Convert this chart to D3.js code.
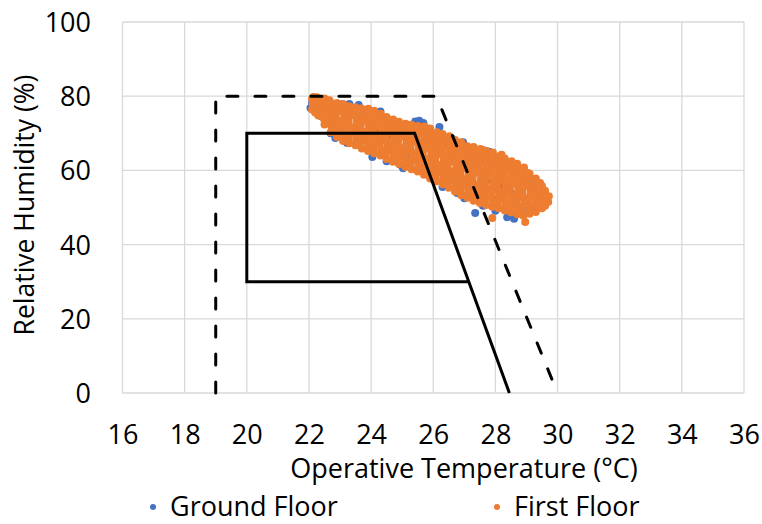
<!DOCTYPE html>
<html>
<head>
<meta charset="utf-8">
<script src="https://cdn.jsdelivr.net/npm/d3@7/dist/d3.min.js"></script>
<style>
  html, body { margin: 0; padding: 0; background: #fff; }
  svg { display: block; }
  text { font-family: "Segoe UI", "Open Sans", "Noto Sans", sans-serif; fill: #000; }
</style>
</head>
<body>
<svg id="chart" width="762" height="524"></svg>
<script>
// ---------- data ----------
const xTicks = [16, 18, 20, 22, 24, 26, 28, 30, 32, 34, 36];
const yTicks = [0, 20, 40, 60, 80, 100];
const xTitle = "Operative Temperature (°C)";
const yTitle = "Relative Humidity (%)";
const seriesNames = ["Ground Floor", "First Floor"];
const seriesColors = ["#4472C4", "#ED7D31"];

// comfort zone boundaries [temperature, RH]
const outerZone = [[19, 0], [19, 80], [26.1, 80], [30, 0]];            // dashed
const innerZone = [[27.14, 30], [20, 30], [20, 70], [25.4, 70], [28.45, 0]]; // solid

// Ground Floor measurements [temperature °C, RH %]
const groundFloor = [
  [22.05,76.8],[22.1,78.2],[22.2,75.9],[22.37,77.6],[22.4,74.6],[22.45,76.2],
  [22.7,70.0],[22.75,72.4],[22.8,74.8],[22.85,68.7],[22.9,77.9],[22.95,76.0],
  [23.07,77.8],[23.1,70.2],[23.15,73.1],[23.23,67.4],[23.3,77.9],[23.35,75.2],
  [23.6,77.6],[23.6,67.1],[23.65,70.4],[23.7,73.6],[23.8,76.1],[24.04,63.6],
  [24.1,66.9],[24.2,70.1],[24.25,73.4],[24.3,75.9],[24.5,62.5],[24.6,65.8],
  [24.7,69.0],[24.75,72.2],[24.94,61.5],[25.03,60.6],[25.1,64.1],[25.2,67.5],
  [25.25,70.6],[25.42,73.2],[25.55,73.4],[25.58,60.1],[25.6,63.4],[25.65,66.8],
  [25.68,72.8],[25.7,69.9],[25.9,58.2],[26.0,61.6],[26.05,65.0],[26.1,68.2],
  [26.2,71.7],[26.3,55.5],[26.4,59.0],[26.5,62.3],[26.55,65.7],[26.6,68.6],
  [26.77,53.9],[26.8,57.2],[26.85,60.6],[26.9,63.9],[26.96,67.6],[27.0,52.5],
  [27.2,55.6],[27.25,58.9],[27.3,62.3],[27.35,48.5],[27.4,65.2],[27.58,65.5],
  [27.6,50.5],[27.65,53.8],[27.7,57.1],[27.75,60.4],[27.8,65.0],[27.9,63.1],
  [28.0,49.1],[28.05,52.3],[28.1,55.7],[28.2,59.0],[28.25,62.2],[28.38,47.4],
  [28.45,50.6],[28.5,53.9],[28.55,57.2],[28.6,47.0],[28.65,60.3],[28.8,50.1],
  [28.85,52.8],[28.9,56.0],[28.95,59.1],[29.1,49.6],[29.15,53.3],[29.2,56.4]
];

// First Floor measurements [temperature °C, RH %]
const firstFloor = [
  [22.1,76.4],[22.12,77.9],[22.1,79.3],[22.14,79.8],
  [22.2,75.6],[22.22,77.2],[22.2,78.8],[22.25,79.7],
  [22.3,74.8],[22.33,76.3],[22.3,77.8],[22.32,79.2],
  [22.5,72.4],[22.48,73.9],[22.52,75.5],[22.5,77.0],[22.47,78.5],[22.5,79.4],
  [22.7,70.3],[22.72,71.9],[22.68,73.4],[22.7,75.0],[22.73,76.6],[22.7,78.1],[22.66,78.9],
  [22.9,69.0],[22.88,70.6],[22.92,72.2],[22.9,73.7],[22.87,75.3],[22.91,76.8],[22.9,78.2],
  [23.1,67.9],[23.12,69.4],[23.08,71.0],[23.1,72.6],[23.13,74.1],[23.1,75.7],[23.07,77.2],[23.1,77.9],
  [23.3,67.3],[23.28,68.9],[23.32,70.4],[23.3,72.0],[23.27,73.5],[23.31,75.1],[23.3,76.6],[23.29,77.3],
  [23.5,66.8],[23.52,68.3],[23.48,69.9],[23.5,71.4],[23.53,73.0],[23.5,74.5],[23.47,76.0],[23.5,77.0],
  [23.7,65.9],[23.68,67.5],[23.72,69.0],[23.7,70.6],[23.67,72.1],[23.71,73.7],[23.7,75.2],[23.69,76.7],
  [23.9,65.2],[23.92,66.8],[23.88,68.3],[23.9,69.9],[23.93,71.4],[23.9,73.0],[23.87,74.5],[23.9,76.0],[23.91,76.6],
  [24.1,64.6],[24.08,66.1],[24.12,67.7],[24.1,69.2],[24.07,70.8],[24.11,72.3],[24.1,73.9],[24.09,75.4],[24.1,76.1],
  [24.3,64.0],[24.32,65.6],[24.28,67.1],[24.3,68.7],[24.33,70.2],[24.3,71.8],[24.27,73.3],[24.3,74.8],[24.31,75.3],
  [24.5,63.1],[24.48,64.7],[24.52,66.2],[24.5,67.8],[24.47,69.3],[24.51,70.9],[24.5,72.4],[24.49,73.9],[24.5,74.4],
  [24.7,62.3],[24.72,63.9],[24.68,65.4],[24.7,67.0],[24.73,68.5],[24.7,70.1],[24.67,71.6],[24.7,73.1],[24.71,73.7],
  [24.9,61.7],[24.88,63.3],[24.92,64.8],[24.9,66.4],[24.87,67.9],[24.91,69.5],[24.9,71.0],[24.89,72.5],[24.9,73.1],
  [25.1,61.0],[25.12,62.6],[25.08,64.1],[25.1,65.7],[25.13,67.2],[25.1,68.8],[25.07,70.3],[25.1,71.8],[25.11,72.6],
  [25.3,60.3],[25.28,61.9],[25.32,63.4],[25.3,65.0],[25.27,66.5],[25.31,68.1],[25.3,69.6],[25.29,71.1],[25.3,72.3],
  [25.5,59.7],[25.52,61.2],[25.48,62.8],[25.5,64.3],[25.53,65.9],[25.5,67.4],[25.47,69.0],[25.5,70.5],[25.51,72.0],
  [25.7,58.8],[25.68,60.4],[25.72,61.9],[25.7,63.5],[25.67,65.0],[25.71,66.6],[25.7,68.1],[25.69,69.7],[25.7,71.2],[25.72,71.8],
  [25.9,57.8],[25.92,59.4],[25.88,60.9],[25.9,62.5],[25.93,64.0],[25.9,65.6],[25.87,67.1],[25.9,68.7],[25.91,70.2],[25.9,71.3],
  [26.1,57.1],[26.08,58.6],[26.12,60.2],[26.1,61.7],[26.07,63.3],[26.11,64.8],[26.1,66.4],[26.09,67.9],[26.1,69.4],[26.12,70.3],
  [26.3,56.3],[26.32,57.9],[26.28,59.4],[26.3,61.0],[26.33,62.5],[26.3,64.1],[26.27,65.6],[26.3,67.2],[26.31,68.7],[26.3,69.8],
  [26.5,55.3],[26.48,56.9],[26.52,58.4],[26.5,60.0],[26.47,61.5],[26.51,63.1],[26.5,64.6],[26.49,66.2],[26.5,67.7],[26.52,69.2],
  [26.7,54.3],[26.72,55.9],[26.68,57.4],[26.7,59.0],[26.73,60.5],[26.7,62.1],[26.67,63.6],[26.7,65.2],[26.71,66.7],[26.7,68.2],
  [26.9,53.3],[26.88,54.9],[26.92,56.4],[26.9,58.0],[26.87,59.5],[26.91,61.1],[26.9,62.6],[26.89,64.2],[26.9,65.7],[26.92,67.2],[26.9,67.6],
  [27.1,52.6],[27.12,54.1],[27.08,55.7],[27.1,57.2],[27.13,58.8],[27.1,60.3],[27.07,61.9],[27.1,63.4],[27.11,65.0],[27.1,66.5],
  [27.3,51.8],[27.28,53.4],[27.32,54.9],[27.3,56.5],[27.27,58.0],[27.31,59.6],[27.3,61.1],[27.29,62.7],[27.3,64.2],[27.32,65.8],[27.3,66.3],
  [27.5,51.2],[27.52,52.8],[27.48,54.3],[27.5,55.9],[27.53,57.4],[27.5,59.0],[27.47,60.5],[27.5,62.1],[27.51,63.6],[27.5,65.2],[27.52,65.8],
  [27.7,50.7],[27.68,52.3],[27.72,53.8],[27.7,55.4],[27.67,56.9],[27.71,58.5],[27.7,60.0],[27.69,61.6],[27.7,63.1],[27.72,64.7],[27.7,65.3],
  [27.9,47.2],[27.9,50.2],[27.92,51.8],[27.88,53.3],[27.9,54.9],[27.93,56.4],[27.9,58.0],[27.87,59.5],[27.9,61.1],[27.91,62.6],[27.9,64.2],[27.92,64.8],
  [28.1,49.8],[28.08,51.4],[28.12,52.9],[28.1,54.5],[28.07,56.0],[28.11,57.6],[28.1,59.1],[28.09,60.7],[28.1,62.2],[28.12,63.8],[28.2,64.2],
  [28.3,49.2],[28.32,50.8],[28.28,52.3],[28.3,53.9],[28.33,55.4],[28.3,57.0],[28.27,58.5],[28.3,60.1],[28.31,61.6],[28.3,63.2],
  [28.5,48.7],[28.48,50.3],[28.52,51.8],[28.5,53.4],[28.47,54.9],[28.51,56.5],[28.5,58.0],[28.49,59.6],[28.5,61.1],[28.52,62.5],
  [28.7,48.2],[28.72,49.8],[28.68,51.3],[28.7,52.9],[28.73,54.4],[28.7,56.0],[28.67,57.5],[28.7,59.1],[28.71,60.6],[28.7,61.8],
  [28.9,47.8],[28.88,49.3],[28.92,50.9],[28.9,52.4],[28.87,54.0],[28.91,55.5],[28.9,57.1],[28.89,58.6],[28.9,60.2],[28.92,60.8],
  [28.96,46.1],[29.05,59.3],
  [29.1,48.3],[29.12,49.8],[29.08,51.4],[29.1,52.9],[29.13,54.5],[29.1,56.0],[29.07,57.6],[29.1,59.1],
  [29.3,48.8],[29.28,50.4],[29.32,51.9],[29.3,53.5],[29.27,55.0],[29.31,56.6],[29.3,57.8],
  [29.44,56.6],[29.5,49.8],[29.52,51.3],[29.48,52.9],[29.5,54.4],[29.5,55.8],
  [29.6,50.5],[29.62,52.5],[29.6,54.5],[29.7,51.5],[29.72,53.0]
];

// ---------- layout ----------
const svg = d3.select("#chart");
const plot = { left: 122.5, right: 744, top: 22, bottom: 393 };
const fontSize = "27px";

const x = d3.scaleLinear().domain([16, 36]).range([plot.left, plot.right]);
const y = d3.scaleLinear().domain([0, 100]).range([plot.bottom, plot.top]);

// gridlines
const grid = svg.append("g").attr("class", "grid");
grid.selectAll("line.vx").data(xTicks).join("line")
  .attr("x1", d => x(d)).attr("x2", d => x(d))
  .attr("y1", plot.top).attr("y2", plot.bottom)
  .attr("stroke", "#d9d9d9").attr("stroke-width", 1.3);
grid.selectAll("line.hy").data(yTicks).join("line")
  .attr("x1", plot.left).attr("x2", plot.right)
  .attr("y1", d => y(d)).attr("y2", d => y(d))
  .attr("stroke", "#d9d9d9").attr("stroke-width", 1.3);

// axes (labels only)
const xAxis = d3.axisBottom(x).tickValues(xTicks).tickSize(0).tickPadding(0).tickFormat(d3.format("d"));
const gx = svg.append("g").attr("transform", `translate(0,${plot.bottom})`).call(xAxis);
gx.select(".domain").remove();
gx.selectAll("text").attr("dy", null).attr("y", 51).style("font-size", fontSize);

const yAxis = d3.axisLeft(y).tickValues(yTicks).tickSize(0).tickPadding(0).tickFormat(d3.format("d"));
const gy = svg.append("g").attr("transform", `translate(91,0)`).call(yAxis);
gy.select(".domain").remove();
gy.selectAll("text").attr("dy", "0.35em").attr("x", 0).style("font-size", fontSize);

// axis titles
svg.append("text").attr("x", 464).attr("y", 478).attr("text-anchor", "middle")
  .style("font-size", fontSize).text(xTitle);
svg.append("text").attr("transform", `translate(34,205) rotate(-90)`).attr("text-anchor", "middle")
  .style("font-size", "26.5px").text(yTitle);

// scatter points
const pts = svg.append("g");
[groundFloor, firstFloor].forEach((data, i) => {
  pts.append("g").selectAll("circle").data(data).join("circle")
    .attr("cx", d => x(d[0])).attr("cy", d => y(d[1]))
    .attr("r", 4).attr("fill", seriesColors[i]);
});

// comfort zones
const line = d3.line().x(d => x(d[0])).y(d => y(d[1]));
svg.append("path").attr("d", line(outerZone)).attr("fill", "none")
  .attr("stroke", "#000").attr("stroke-width", 3)
  .attr("stroke-dasharray", "11 17").attr("stroke-linecap", "round").attr("stroke-linejoin", "round");
svg.append("path").attr("d", line(innerZone)).attr("fill", "none")
  .attr("stroke", "#000").attr("stroke-width", 3).attr("stroke-linejoin", "miter");

// legend
const legendPos = [153, 497];
const lg = svg.append("g");
seriesNames.forEach((name, i) => {
  lg.append("circle").attr("cx", legendPos[i]).attr("cy", 507).attr("r", 3).attr("fill", seriesColors[i]);
  lg.append("text").attr("x", legendPos[i] + 17).attr("y", 516).style("font-size", "27px").text(name);
});
</script>
</body>
</html>
